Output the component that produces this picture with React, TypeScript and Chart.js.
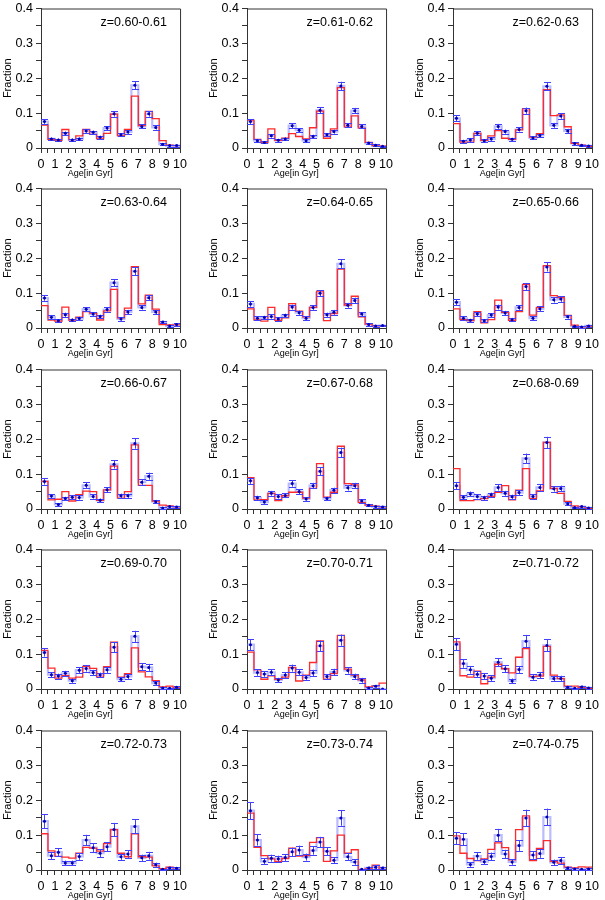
import React, { useEffect, useRef } from "react";
import { Chart, registerables } from "chart.js";

Chart.register(...registerables);

// ---------------- data ----------------
const AGE_EDGES = [0, 0.5, 1, 1.5, 2, 2.5, 3, 3.5, 4, 4.5, 5, 5.5, 6, 6.5, 7, 7.5, 8, 8.5, 9, 9.5, 10];
const AGE_CENTERS = [0.25, 0.75, 1.25, 1.75, 2.25, 2.75, 3.25, 3.75, 4.25, 4.75, 5.25, 5.75, 6.25, 6.75, 7.25, 7.75, 8.25, 8.75, 9.25, 9.75];
const X_TICKS = [0, 1, 2, 3, 4, 5, 6, 7, 8, 9, 10];
const Y_TICKS = [0, 0.1, 0.2, 0.3, 0.4];

const Z_LABELS = [
  "z=0.60-0.61", "z=0.61-0.62", "z=0.62-0.63",
  "z=0.63-0.64", "z=0.64-0.65", "z=0.65-0.66",
  "z=0.66-0.67", "z=0.67-0.68", "z=0.68-0.69",
  "z=0.69-0.70", "z=0.70-0.71", "z=0.71-0.72",
  "z=0.72-0.73", "z=0.73-0.74", "z=0.74-0.75",
];

// red model histograms
const MODEL_01 = [0.066, 0.025, 0.022, 0.053, 0.024, 0.035, 0.053, 0.039, 0.026, 0.042, 0.097, 0.035, 0.053, 0.149, 0.064, 0.105, 0.084, 0.021, 0.008, 0.007];
const MODEL_02 = [0.080, 0.025, 0.016, 0.055, 0.022, 0.028, 0.041, 0.033, 0.026, 0.058, 0.106, 0.028, 0.055, 0.173, 0.060, 0.092, 0.057, 0.016, 0.006, 0.005];
const MODEL_03 = [0.070, 0.017, 0.017, 0.042, 0.022, 0.035, 0.050, 0.028, 0.025, 0.052, 0.113, 0.031, 0.041, 0.167, 0.093, 0.095, 0.061, 0.013, 0.008, 0.005];
const MODEL_04 = [0.064, 0.023, 0.020, 0.060, 0.023, 0.031, 0.047, 0.043, 0.023, 0.049, 0.111, 0.029, 0.057, 0.176, 0.069, 0.094, 0.054, 0.010, 0.009, 0.009];
const MODEL_05 = [0.055, 0.023, 0.020, 0.059, 0.022, 0.029, 0.070, 0.048, 0.032, 0.059, 0.106, 0.021, 0.041, 0.169, 0.066, 0.091, 0.032, 0.011, 0.006, 0.006];
const MODEL_06 = [0.055, 0.024, 0.021, 0.047, 0.015, 0.024, 0.080, 0.045, 0.022, 0.047, 0.125, 0.037, 0.059, 0.179, 0.093, 0.087, 0.036, 0.008, 0.003, 0.003];
const MODEL_07 = [0.079, 0.026, 0.028, 0.050, 0.023, 0.041, 0.051, 0.050, 0.025, 0.055, 0.123, 0.031, 0.050, 0.184, 0.068, 0.068, 0.023, 0.011, 0.009, 0.006];
const MODEL_08 = [0.090, 0.026, 0.027, 0.045, 0.024, 0.038, 0.048, 0.048, 0.031, 0.059, 0.130, 0.034, 0.048, 0.180, 0.073, 0.069, 0.018, 0.011, 0.008, 0.006];
const MODEL_09 = [0.116, 0.024, 0.024, 0.027, 0.030, 0.036, 0.048, 0.067, 0.026, 0.054, 0.116, 0.030, 0.052, 0.191, 0.059, 0.045, 0.022, 0.009, 0.006, 0.002];
const MODEL_10 = [0.111, 0.060, 0.031, 0.038, 0.031, 0.034, 0.065, 0.059, 0.034, 0.064, 0.134, 0.034, 0.044, 0.118, 0.049, 0.035, 0.024, 0.006, 0.008, 0.003];
const MODEL_11 = [0.106, 0.055, 0.028, 0.038, 0.028, 0.034, 0.062, 0.023, 0.040, 0.076, 0.138, 0.028, 0.044, 0.154, 0.057, 0.040, 0.026, 0.006, 0.009, 0.017];
const MODEL_12 = [0.135, 0.038, 0.034, 0.051, 0.015, 0.034, 0.071, 0.058, 0.046, 0.091, 0.116, 0.036, 0.037, 0.122, 0.040, 0.030, 0.008, 0.008, 0.004, 0.002];
const MODEL_13 = [0.104, 0.055, 0.039, 0.037, 0.034, 0.048, 0.065, 0.063, 0.054, 0.076, 0.116, 0.048, 0.038, 0.104, 0.038, 0.037, 0.012, 0.004, 0.008, 0.002];
const MODEL_14 = [0.163, 0.065, 0.041, 0.032, 0.025, 0.033, 0.063, 0.040, 0.041, 0.079, 0.093, 0.025, 0.055, 0.100, 0.048, 0.058, 0.000, 0.003, 0.014, 0.002];
const MODEL_15 = [0.098, 0.048, 0.033, 0.027, 0.032, 0.059, 0.078, 0.064, 0.029, 0.116, 0.155, 0.027, 0.062, 0.084, 0.025, 0.020, 0.008, 0.006, 0.009, 0.008];

// blue observed fractions
const OBS_01 = [0.076, 0.026, 0.023, 0.042, 0.023, 0.026, 0.049, 0.045, 0.031, 0.057, 0.098, 0.038, 0.046, 0.180, 0.062, 0.098, 0.059, 0.011, 0.007, 0.007];
const OBS_02 = [0.076, 0.021, 0.016, 0.035, 0.022, 0.026, 0.064, 0.051, 0.021, 0.033, 0.108, 0.038, 0.047, 0.178, 0.065, 0.107, 0.062, 0.014, 0.008, 0.005];
const OBS_03 = [0.085, 0.019, 0.023, 0.042, 0.021, 0.026, 0.062, 0.047, 0.025, 0.053, 0.107, 0.029, 0.036, 0.177, 0.065, 0.092, 0.049, 0.013, 0.008, 0.006];
const OBS_04 = [0.086, 0.031, 0.021, 0.038, 0.023, 0.027, 0.054, 0.040, 0.033, 0.053, 0.130, 0.026, 0.046, 0.163, 0.059, 0.087, 0.046, 0.017, 0.006, 0.010];
const OBS_05 = [0.069, 0.028, 0.030, 0.033, 0.026, 0.036, 0.060, 0.044, 0.028, 0.059, 0.100, 0.038, 0.045, 0.184, 0.065, 0.079, 0.040, 0.010, 0.006, 0.007];
const OBS_06 = [0.074, 0.028, 0.022, 0.040, 0.021, 0.037, 0.060, 0.043, 0.024, 0.059, 0.119, 0.028, 0.055, 0.175, 0.081, 0.083, 0.032, 0.005, 0.003, 0.006];
const OBS_07 = [0.079, 0.037, 0.013, 0.030, 0.034, 0.033, 0.068, 0.036, 0.025, 0.055, 0.128, 0.038, 0.038, 0.188, 0.077, 0.094, 0.021, 0.003, 0.007, 0.006];
const OBS_08 = [0.081, 0.032, 0.020, 0.045, 0.036, 0.039, 0.073, 0.050, 0.029, 0.067, 0.108, 0.030, 0.054, 0.162, 0.061, 0.067, 0.023, 0.011, 0.007, 0.006];
const OBS_09 = [0.067, 0.034, 0.043, 0.036, 0.032, 0.041, 0.062, 0.045, 0.035, 0.047, 0.145, 0.036, 0.062, 0.191, 0.058, 0.059, 0.015, 0.004, 0.007, 0.003];
const OBS_10 = [0.105, 0.041, 0.037, 0.045, 0.024, 0.054, 0.059, 0.047, 0.040, 0.055, 0.120, 0.028, 0.036, 0.151, 0.064, 0.062, 0.017, 0.003, 0.002, 0.005];
const OBS_11 = [0.127, 0.047, 0.043, 0.048, 0.026, 0.040, 0.060, 0.048, 0.033, 0.046, 0.124, 0.036, 0.049, 0.140, 0.053, 0.036, 0.025, 0.003, 0.008, 0.000];
const OBS_12 = [0.128, 0.073, 0.055, 0.042, 0.037, 0.031, 0.077, 0.058, 0.023, 0.056, 0.137, 0.034, 0.040, 0.125, 0.030, 0.030, 0.005, 0.002, 0.006, 0.003];
const OBS_13 = [0.140, 0.041, 0.051, 0.020, 0.020, 0.039, 0.086, 0.064, 0.048, 0.067, 0.116, 0.038, 0.046, 0.125, 0.035, 0.041, 0.015, 0.002, 0.006, 0.005];
const OBS_14 = [0.170, 0.086, 0.025, 0.034, 0.032, 0.036, 0.052, 0.057, 0.037, 0.056, 0.080, 0.054, 0.028, 0.149, 0.038, 0.023, 0.002, 0.006, 0.008, 0.006];
const OBS_15 = [0.091, 0.088, 0.016, 0.040, 0.024, 0.039, 0.100, 0.046, 0.023, 0.070, 0.149, 0.043, 0.047, 0.152, 0.022, 0.027, 0.006, 0.003, 0.002, 0.003];

// error bar half-lengths
const ERR_01 = [0.007, 0.004, 0.004, 0.005, 0.004, 0.004, 0.005, 0.005, 0.004, 0.006, 0.008, 0.005, 0.005, 0.012, 0.006, 0.008, 0.006, 0.003, 0.003, 0.003];
const ERR_02 = [0.007, 0.004, 0.003, 0.005, 0.004, 0.004, 0.007, 0.006, 0.004, 0.005, 0.009, 0.005, 0.006, 0.012, 0.006, 0.008, 0.006, 0.003, 0.003, 0.002];
const ERR_03 = [0.009, 0.004, 0.005, 0.006, 0.004, 0.005, 0.007, 0.006, 0.004, 0.006, 0.009, 0.004, 0.005, 0.012, 0.007, 0.008, 0.006, 0.003, 0.002, 0.002];
const ERR_04 = [0.008, 0.005, 0.004, 0.006, 0.004, 0.005, 0.006, 0.005, 0.005, 0.006, 0.010, 0.005, 0.006, 0.012, 0.006, 0.008, 0.006, 0.004, 0.003, 0.003];
const ERR_05 = [0.008, 0.005, 0.005, 0.006, 0.005, 0.005, 0.007, 0.006, 0.005, 0.007, 0.009, 0.006, 0.007, 0.013, 0.007, 0.008, 0.006, 0.003, 0.002, 0.002];
const ERR_06 = [0.008, 0.005, 0.004, 0.006, 0.004, 0.006, 0.007, 0.006, 0.005, 0.007, 0.010, 0.005, 0.007, 0.013, 0.008, 0.008, 0.005, 0.002, 0.002, 0.003];
const ERR_07 = [0.009, 0.006, 0.004, 0.005, 0.006, 0.006, 0.009, 0.006, 0.005, 0.007, 0.012, 0.006, 0.006, 0.015, 0.008, 0.010, 0.005, 0.002, 0.003, 0.003];
const ERR_08 = [0.009, 0.006, 0.005, 0.007, 0.006, 0.006, 0.009, 0.007, 0.005, 0.008, 0.011, 0.005, 0.007, 0.014, 0.008, 0.008, 0.005, 0.003, 0.003, 0.003];
const ERR_09 = [0.010, 0.006, 0.007, 0.006, 0.006, 0.006, 0.009, 0.007, 0.006, 0.007, 0.014, 0.006, 0.009, 0.016, 0.008, 0.008, 0.004, 0.002, 0.003, 0.002];
const ERR_10 = [0.012, 0.007, 0.007, 0.007, 0.006, 0.009, 0.009, 0.008, 0.007, 0.009, 0.014, 0.006, 0.007, 0.016, 0.010, 0.010, 0.006, 0.002, 0.002, 0.003];
const ERR_11 = [0.016, 0.009, 0.008, 0.009, 0.006, 0.008, 0.010, 0.009, 0.007, 0.009, 0.015, 0.007, 0.009, 0.016, 0.009, 0.008, 0.007, 0.003, 0.004, 0.001];
const ERR_12 = [0.017, 0.012, 0.011, 0.009, 0.009, 0.008, 0.012, 0.010, 0.007, 0.010, 0.018, 0.008, 0.009, 0.017, 0.008, 0.008, 0.003, 0.002, 0.004, 0.002];
const ERR_13 = [0.020, 0.010, 0.011, 0.007, 0.007, 0.010, 0.015, 0.013, 0.011, 0.013, 0.019, 0.009, 0.011, 0.020, 0.009, 0.011, 0.006, 0.002, 0.004, 0.003];
const ERR_14 = [0.024, 0.016, 0.008, 0.010, 0.009, 0.010, 0.012, 0.013, 0.010, 0.012, 0.015, 0.012, 0.009, 0.022, 0.010, 0.008, 0.002, 0.004, 0.005, 0.004];
const ERR_15 = [0.017, 0.017, 0.007, 0.011, 0.008, 0.011, 0.018, 0.012, 0.008, 0.015, 0.024, 0.011, 0.012, 0.024, 0.008, 0.009, 0.004, 0.003, 0.002, 0.003];

const MODELS = [MODEL_01, MODEL_02, MODEL_03, MODEL_04, MODEL_05, MODEL_06, MODEL_07, MODEL_08, MODEL_09, MODEL_10, MODEL_11, MODEL_12, MODEL_13, MODEL_14, MODEL_15];
const OBS = [OBS_01, OBS_02, OBS_03, OBS_04, OBS_05, OBS_06, OBS_07, OBS_08, OBS_09, OBS_10, OBS_11, OBS_12, OBS_13, OBS_14, OBS_15];
const ERRS = [ERR_01, ERR_02, ERR_03, ERR_04, ERR_05, ERR_06, ERR_07, ERR_08, ERR_09, ERR_10, ERR_11, ERR_12, ERR_13, ERR_14, ERR_15];

// ---------------- layout ----------------
const COL_LEFT = [41, 247, 453];
const ROW_TOP = [6, 186, 367, 547, 728];
const PLOT_W = 141;
const PLOT_H = 142;
const PAD_L = 41;
const PAD_T = 8;
const PAD_R = 9;
const PAD_B = 32;
const FONT = '"Liberation Sans", Arial, Helvetica, sans-serif';

const RED = "#ff2b2b";
const BLUE_HIST = "rgba(120,120,255,0.5)";
const BLUE_ERR = "#4040ff";
const BLUE_PT = "#0000b4";
const AXIS = "#333333";

function stepData(values: number[]) {
  return AGE_EDGES.map((e, i) => ({ x: e, y: values[Math.min(i, values.length - 1)] }));
}

const panelPlugin = {
  id: "panelDecor",
  beforeDatasetDraw(chart: any, args: any) {
    if (args.index !== 2) return;
    const errs: number[] = chart.options.plugins.panelDecor.errs;
    const obs: number[] = chart.options.plugins.panelDecor.obs;
    const xs = chart.scales.x;
    const ys = chart.scales.y;
    const ctx = chart.ctx;
    ctx.save();
    ctx.strokeStyle = BLUE_ERR;
    ctx.lineWidth = 1;
    for (let i = 0; i < obs.length; i++) {
      const px = Math.round(xs.getPixelForValue(AGE_CENTERS[i])) + 0.5;
      const y1 = ys.getPixelForValue(Math.max(0, obs[i] - errs[i]));
      const y2 = ys.getPixelForValue(obs[i] + errs[i]);
      ctx.beginPath();
      ctx.moveTo(px, y1);
      ctx.lineTo(px, y2);
      ctx.moveTo(px - 3.5, Math.round(y1) + 0.5);
      ctx.lineTo(px + 3.5, Math.round(y1) + 0.5);
      ctx.moveTo(px - 3.5, Math.round(y2) + 0.5);
      ctx.lineTo(px + 3.5, Math.round(y2) + 0.5);
      ctx.stroke();
    }
    ctx.restore();
  },
  afterDraw(chart: any) {
    const { ctx, chartArea } = chart;
    const xs = chart.scales.x;
    const ys = chart.scales.y;
    const label: string = chart.options.plugins.panelDecor.label;
    ctx.save();
    // frame top and right
    ctx.strokeStyle = AXIS;
    ctx.lineWidth = 1;
    ctx.beginPath();
    ctx.moveTo(chartArea.left, chartArea.top + 0.5);
    ctx.lineTo(chartArea.right + 0.5, chartArea.top + 0.5);
    ctx.lineTo(chartArea.right + 0.5, chartArea.bottom);
    ctx.stroke();
    // panel label
    ctx.fillStyle = "#000";
    ctx.font = `12.5px ${FONT}`;
    ctx.textAlign = "right";
    ctx.textBaseline = "middle";
    ctx.fillText(label, xs.getPixelForValue(9.05), ys.getPixelForValue(0.36));
    // y title
    ctx.save();
    ctx.translate(chartArea.left - 33.5, (chartArea.top + chartArea.bottom) / 2);
    ctx.rotate(-Math.PI / 2);
    ctx.textAlign = "center";
    ctx.textBaseline = "middle";
    ctx.font = `11px ${FONT}`;
    ctx.fillText("Fraction", 0, 0);
    ctx.restore();
    // x title
    ctx.font = `9px ${FONT}`;
    ctx.textAlign = "center";
    ctx.textBaseline = "middle";
    ctx.fillText("Age[in Gyr]", xs.getPixelForValue(3.55), chartArea.bottom + 25.5);
    ctx.restore();
  },
};

function Panel({ idx }: { idx: number }) {
  const ref = useRef<HTMLCanvasElement | null>(null);
  const col = idx % 3;
  const row = Math.floor(idx / 3);
  const W = PAD_L + PLOT_W + PAD_R;
  const H = PAD_T + PLOT_H + PAD_B;

  useEffect(() => {
    if (!ref.current) return;
    const model = MODELS[idx];
    const obs = OBS[idx];
    const chart = new Chart(ref.current, {
      type: "line",
      data: {
        datasets: [
          {
            label: "obs hist",
            data: stepData(obs),
            stepped: "before",
            borderColor: BLUE_HIST,
            borderWidth: 2.2,
            pointRadius: 0,
            fill: false,
            order: 3,
          } as any,
          {
            label: "model",
            data: stepData(model),
            stepped: "before",
            borderColor: RED,
            borderWidth: 1.3,
            pointRadius: 0,
            fill: false,
            order: 2,
          } as any,
          {
            type: "scatter",
            label: "obs",
            data: AGE_CENTERS.map((c, i) => ({ x: c, y: obs[i] })),
            pointRadius: 1.5,
            pointBackgroundColor: BLUE_PT,
            pointBorderWidth: 0,
            showLine: false,
            order: 1,
          } as any,
        ],
      },
      options: {
        responsive: false,
        animation: false,
        devicePixelRatio: 1,
        layout: { padding: { left: 0, top: PAD_T, right: PAD_R, bottom: 0 } },
        plugins: {
          legend: { display: false },
          tooltip: { enabled: false },
          panelDecor: { label: Z_LABELS[idx], errs: ERRS[idx], obs },
        } as any,
        scales: {
          x: {
            type: "linear",
            min: AGE_EDGES[0],
            max: AGE_EDGES[AGE_EDGES.length - 1],
            afterFit: (s: any) => {
              s.height = PAD_B;
            },
            afterBuildTicks: (s: any) => {
              s.ticks = AGE_EDGES.map((v) => ({ value: v }));
            },
            ticks: {
              autoSkip: false,
              maxRotation: 0,
              padding: 4,
              color: "#000",
              font: { family: FONT, size: 12.5 },
              callback: (v: any) => (X_TICKS.includes(Number(v)) ? String(v) : ""),
            },
            grid: {
              display: true,
              drawOnChartArea: false,
              drawTicks: true,
              tickLength: 5,
              color: AXIS,
            },
            border: { display: true, color: AXIS, width: 1 },
          },
          y: {
            type: "linear",
            min: 0,
            max: 0.4,
            afterFit: (s: any) => {
              s.width = PAD_L;
            },
            afterBuildTicks: (s: any) => {
              const t: any[] = [];
              for (let k = 0; k < Y_TICKS.length; k++) {
                t.push({ value: Y_TICKS[k] });
                if (k < Y_TICKS.length - 1) t.push({ value: (Y_TICKS[k] + Y_TICKS[k + 1]) / 2 });
              }
              s.ticks = t;
            },
            ticks: {
              autoSkip: false,
              padding: 3,
              color: "#000",
              font: { family: FONT, size: 12.5 },
              callback: (v: any) => {
                const n = Number(v);
                const hit = Y_TICKS.find((t) => Math.abs(t - n) < 1e-9);
                if (hit === undefined) return "";
                return hit === 0 ? "0" : hit.toFixed(1);
              },
            },
            grid: {
              display: true,
              drawOnChartArea: false,
              drawTicks: true,
              tickLength: 5,
              color: AXIS,
            },
            border: { display: true, color: AXIS, width: 1 },
          },
        },
      },
      plugins: [panelPlugin],
    });
    return () => chart.destroy();
  }, [idx]);

  return (
    <canvas
      ref={ref}
      width={W}
      height={H}
      style={{
        position: "absolute",
        left: COL_LEFT[col] - PAD_L,
        top: ROW_TOP[row] - PAD_T,
        width: W,
        height: H,
      }}
    />
  );
}

export default function App() {
  return (
    <div
      style={{
        position: "absolute",
        left: 0,
        top: 0,
        width: 605,
        height: 900,
        background: "#fff",
        overflow: "hidden",
      }}
    >
      {Z_LABELS.map((_, i) => (
        <Panel key={i} idx={i} />
      ))}
    </div>
  );
}
